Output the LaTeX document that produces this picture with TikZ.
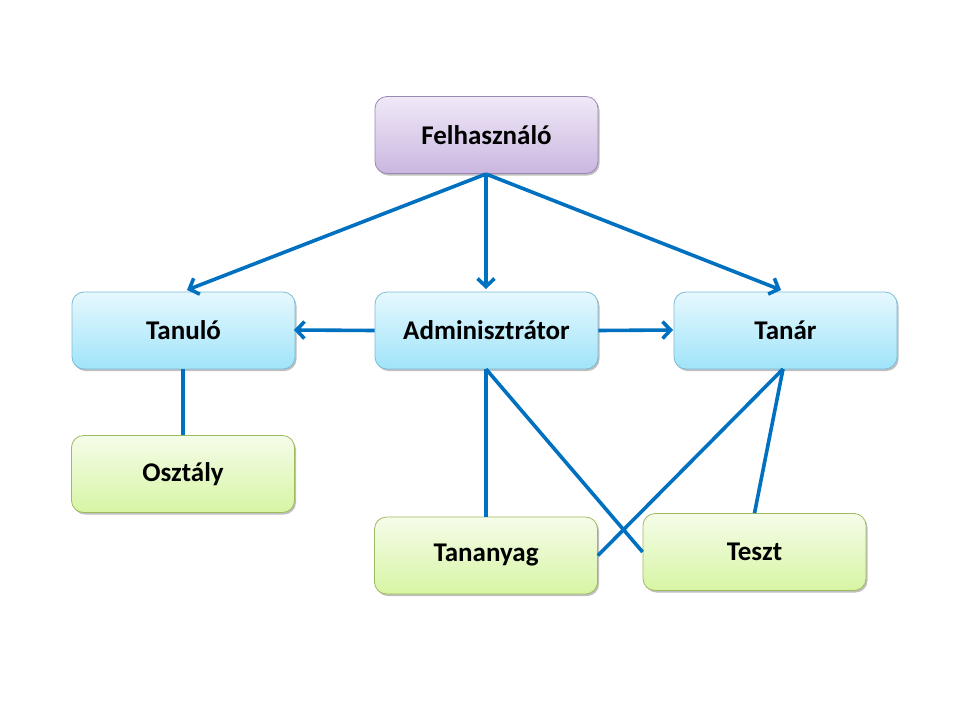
\documentclass[tikz,border=0pt]{standalone}
\usepackage{fontspec}
\setmainfont{Carlito}
\usetikzlibrary{arrows.meta,shadows}
\definecolor{linec}{HTML}{0070C0}
\definecolor{ptop}{HTML}{F0E9F7}\definecolor{pbot}{HTML}{CAB6E0}\definecolor{pbord}{HTML}{9A88B2}
\definecolor{btop}{HTML}{E6F8FD}\definecolor{bbot}{HTML}{A0E4FA}\definecolor{bbord}{HTML}{7DBBD6}
\definecolor{gtop}{HTML}{F5FCE9}\definecolor{gbot}{HTML}{D7F5A4}\definecolor{gbord}{HTML}{9DBB5E}
\tikzset{
  boxbase/.style={rectangle, rounded corners=12pt, minimum width=223pt, minimum height=77pt,
    line width=0.8pt, font=\fontsize{27}{32}\selectfont\bfseries,
    drop shadow={shadow xshift=1.5pt, shadow yshift=-2pt, opacity=0.25, fill=black}},
  pbox/.style={boxbase, draw=pbord, top color=ptop, bottom color=pbot},
  bbox/.style={boxbase, draw=bbord, top color=btop, bottom color=bbot},
  gbox/.style={boxbase, draw=gbord, top color=gtop, bottom color=gbot},
  conn/.style={draw=linec, line width=3.6pt},
  arr/.style={conn, -{Straight Barb[length=8pt,width=17pt]}},
}
\begin{document}
\begin{tikzpicture}[x=1pt,y=-1pt]
\useasboundingbox (0,0) rectangle (960,720);
\node[pbox] (fel) at (486.5,135) {Felhasználó};
\node[bbox] (tanulo) at (183.5,330.5) {Tanuló};
\node[bbox] (admin) at (486.5,330.5) {Adminisztrátor};
\node[bbox] (tanar) at (785.5,330.5) {Tanár};
\node[gbox] (osztaly) at (183,474) {Osztály};
\node[gbox] (tananyag) at (486,555.5) {Tananyag};
\node[gbox] (teszt) at (754.5,552) {Teszt};
\coordinate (felb) at (486,174);
\draw[arr] (felb) -- (187,290);
\draw[arr] (felb) -- (486,289);
\draw[arr] (felb) -- (781,290);
\draw[arr] (admin.west) -- (294,330);
\draw[arr] (admin.east) -- (673,330);
\draw[conn] (183,369) -- (osztaly.north);
\draw[conn] (486,369) -- (tananyag.north);
\draw[conn] (486,369) -- (teszt.west);
\draw[conn] (783,369) -- (tananyag.east);
\draw[conn] (783,369) -- (teszt.north);
\end{tikzpicture}
\end{document}
